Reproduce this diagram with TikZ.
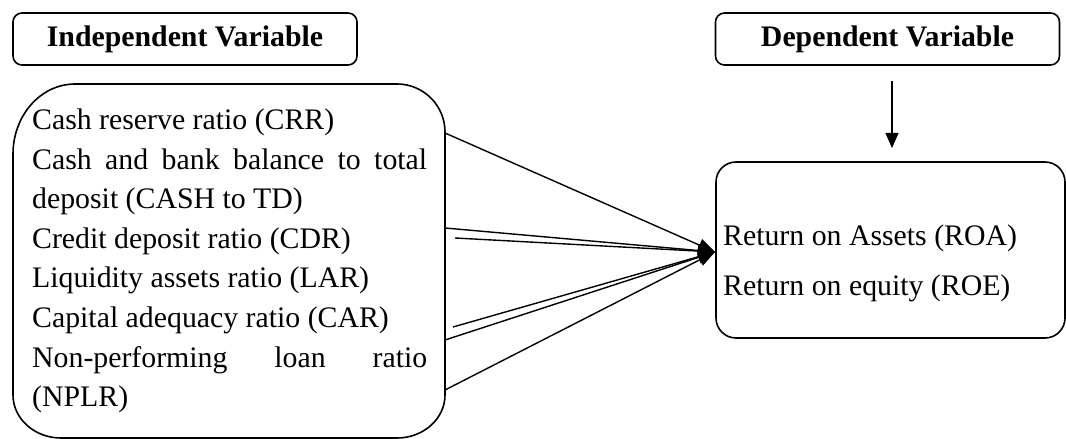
\documentclass[tikz,border=0pt]{standalone}
\usepackage{fontspec}
\setmainfont{Liberation Serif}
\usetikzlibrary{arrows.meta}
\newcommand{\mysize}{\fontsize{29.8bp}{39.6bp}\selectfont}
\tikzset{
  headbox/.style={draw, line width=1.6bp, rounded corners=9bp, minimum width=344bp, minimum height=52bp, inner sep=0pt, font=\mysize\bfseries},
  bigbox/.style={line width=1.6bp, inner sep=0pt},
  txt/.style={anchor=base west, inner sep=0pt},
  link/.style={line width=1.4bp, -{Triangle[length=17bp,width=13bp]}},
}
\begin{document}
\begin{tikzpicture}[x=1bp,y=-1bp,font=\mysize]
\useasboundingbox (0,0) rectangle (1066,439);
% heading boxes
\node[headbox] (I) at (185,39) {Independent Variable};
\node[headbox] (D) at (887.5,39) {Dependent Variable};
% left box
\node[bigbox, minimum width=432bp, minimum height=354bp] (L) at (229,261) {};
\draw[line width=1.6bp] (13,154) .. controls (13,115.4) and (40.8,84) .. (75,84)
  -- (397,84) .. controls (423.5,84) and (445,105.5) .. (445,132)
  -- (445,395) .. controls (445,418.7) and (423.5,438) .. (397,438)
  -- (61,438) .. controls (34.5,438) and (13,418.7) .. (13,395) -- cycle;
% right box
\node[bigbox, draw, rounded corners=20bp, minimum width=349bp, minimum height=176bp] (R) at (890.5,250) {};
% left texts
\node[txt] (t1) at (32,129.5) {Cash reserve ratio (CRR)};
\node[txt] (t2) at (32,169.1) {\makebox[395bp][s]{Cash and bank balance to total}};
\node[txt] (t3) at (32,208.7) {deposit (CASH to TD)};
\node[txt] (t4) at (32,248.3) {Credit deposit ratio (CDR)};
\node[txt] (t5) at (32,287.9) {Liquidity assets ratio (LAR)};
\node[txt] (t6) at (32,327.5) {Capital adequacy ratio (CAR)};
\node[txt] (t7) at (32,367.1) {\makebox[395bp][s]{Non-performing loan ratio}};
\node[txt] (t8) at (32,406.7) {(NPLR)};
% right texts
\node[txt] (r1) at (723,246) {Return on Assets (ROA)};
\node[txt] (r2) at (723,296) {Return on equity (ROE)};
% connector starts
\coordinate (s1) at (445,133);
\coordinate (s2) at (445,228);
\coordinate (s3) at (455,238);
\coordinate (s4) at (453,327);
\coordinate (s5) at (445,340);
\coordinate (s6) at (445,390);
\coordinate (tip) at (715,252);
\foreach \s in {s1,s2,s3,s4,s5,s6} \draw[link] (\s) -- (tip);
% dependent arrow
\coordinate (da) at (892,81);
\coordinate (db) at (892,148);
\draw[line width=1.4bp, -{Triangle[length=15bp,width=13bp]}] (da) -- (db);
\end{tikzpicture}
\end{document}
